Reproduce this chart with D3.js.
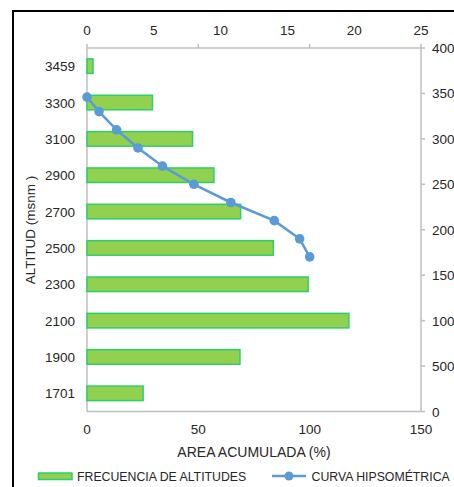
<!DOCTYPE html>
<html>
<head>
<meta charset="utf-8">
<script src="https://cdn.jsdelivr.net/npm/d3@7"></script>
<style>
  html, body { margin: 0; padding: 0; background: #fff; }
  svg { display: block; font-family: "Liberation Sans", Arial, sans-serif; }
</style>
</head>
<body>
<svg id="chart" width="454" height="487"></svg>
<script>
// Altitude classes (msnm), top to bottom
const altitudes = ["3459", "3300", "3100", "2900", "2700", "2500", "2300", "2100", "1900", "1701"];
// Frequency of altitudes (% of area in each class) — top axis
const frequency = [0.45, 4.9, 7.9, 9.5, 11.5, 13.95, 16.55, 19.6, 11.45, 4.2];
// Hypsometric curve: cumulative area (%) vs altitude
const curveAltitude = [3459, 3300, 3100, 2900, 2700, 2500, 2300, 2100, 1900, 1701];
const curveArea = [0, 5.4, 13.3, 22.9, 33.9, 48.0, 64.6, 84.1, 95.5, 100];
// Tick labels
const topTicks = [0, 5, 10, 15, 20, 25];
const bottomTicks = [0, 50, 100, 150];
const rightTicks = [0, 500, 1000, 1500, 2000, 2500, 3000, 3500, 4000];

const svg = d3.select("#chart");
const plotL = 87, plotR = 421, plotT = 48, plotB = 411.5;
const textColor = "#262626";
const axisColor = "#bfbfbf";

// Frame lines of the surrounding sheet
svg.append("line").attr("x1", 13).attr("x2", 454).attr("y1", 11).attr("y2", 11)
  .attr("stroke", "#000").attr("stroke-width", 2);
svg.append("line").attr("x1", 13).attr("x2", 13).attr("y1", 10).attr("y2", 487)
  .attr("stroke", "#000").attr("stroke-width", 2);

// Scales
const xFreq = d3.scaleLinear().domain([0, 25]).range([plotL, plotR]);
const xArea = d3.scaleLinear().domain([0, 150]).range([plotL, plotR]);
const yAlt = d3.scaleLinear().domain([0, 4000]).range([plotB, plotT]);
const yBand = d3.scaleBand().domain(altitudes).range([plotT, plotB]).paddingInner(0.6).paddingOuter(0.3);

// Plot frame (axis lines)
const frame = svg.append("g").attr("stroke", axisColor).attr("stroke-width", 1.5).attr("fill", "none");
frame.append("line").attr("x1", plotL).attr("x2", plotR).attr("y1", plotT).attr("y2", plotT);
frame.append("line").attr("x1", plotL).attr("x2", plotR).attr("y1", plotB).attr("y2", plotB);
frame.append("line").attr("x1", plotL).attr("x2", plotL).attr("y1", plotT).attr("y2", plotB);
frame.append("line").attr("x1", plotR).attr("x2", plotR).attr("y1", plotT).attr("y2", plotB);

// Top tick marks follow the bottom axis major unit
frame.append("g").selectAll("line").data(bottomTicks).join("line")
  .attr("x1", d => xArea(d)).attr("x2", d => xArea(d))
  .attr("y1", plotT - 4).attr("y2", plotT);
// Right tick marks
frame.append("g").selectAll("line").data(rightTicks).join("line")
  .attr("x1", plotR).attr("x2", plotR + 4)
  .attr("y1", d => yAlt(d)).attr("y2", d => yAlt(d));

// Bars
svg.append("g").selectAll("rect").data(altitudes).join("rect")
  .attr("x", xFreq(0))
  .attr("y", d => yBand(d))
  .attr("width", (d, i) => xFreq(frequency[i]) - xFreq(0))
  .attr("height", yBand.bandwidth())
  .attr("fill", "#92d050")
  .attr("stroke", "#2bd06a")
  .attr("stroke-width", 1.5);

// Hypsometric curve
const pts = curveArea.map((a, i) => [xArea(a), yAlt(curveAltitude[i])]);
svg.append("path").datum(pts)
  .attr("d", d3.line())
  .attr("fill", "none").attr("stroke", "#5b9bd5").attr("stroke-width", 2.5);
svg.append("g").selectAll("circle").data(pts).join("circle")
  .attr("cx", d => d[0]).attr("cy", d => d[1]).attr("r", 4.8)
  .attr("fill", "#5b9bd5");

// Tick labels
const fs = 13.5;
svg.append("g").selectAll("text").data(topTicks).join("text")
  .attr("x", d => xFreq(d)).attr("y", 35)
  .attr("text-anchor", "middle").attr("font-size", fs).attr("fill", textColor)
  .text(d => d);
svg.append("g").selectAll("text").data(bottomTicks).join("text")
  .attr("x", d => xArea(d)).attr("y", 434)
  .attr("text-anchor", "middle").attr("font-size", fs).attr("fill", textColor)
  .text(d => d);
svg.append("g").selectAll("text").data(rightTicks).join("text")
  .attr("x", 432).attr("y", d => yAlt(d) + 5)
  .attr("text-anchor", "start").attr("font-size", fs).attr("fill", textColor)
  .text(d => d);
svg.append("g").selectAll("text").data(altitudes).join("text")
  .attr("x", 75).attr("y", d => yBand(d) + yBand.bandwidth() / 2 + 5)
  .attr("text-anchor", "end").attr("font-size", fs).attr("fill", textColor)
  .text(d => d);

// Axis titles
svg.append("text").attr("x", 254).attr("y", 457)
  .attr("text-anchor", "middle").attr("font-size", 14).attr("fill", textColor)
  .text("AREA ACUMULADA (%)");
svg.append("text").attr("transform", "translate(35,230) rotate(-90)")
  .attr("text-anchor", "middle").attr("font-size", 13.5).attr("fill", textColor)
  .text("ALTITUD (msnm )");

// Legend
const lg = svg.append("g");
lg.append("rect").attr("x", 38.5).attr("y", 473).attr("width", 33.5).attr("height", 6.5)
  .attr("fill", "#92d050").attr("stroke", "#2bd06a").attr("stroke-width", 1.5);
lg.append("text").attr("x", 77).attr("y", 480.5).attr("font-size", 12.3).attr("fill", textColor)
  .text("FRECUENCIA DE ALTITUDES");
lg.append("line").attr("x1", 272).attr("x2", 306).attr("y1", 476).attr("y2", 476)
  .attr("stroke", "#5b9bd5").attr("stroke-width", 2.5);
lg.append("circle").attr("cx", 289).attr("cy", 476).attr("r", 4.5).attr("fill", "#5b9bd5");
lg.append("text").attr("x", 311.5).attr("y", 480.5).attr("font-size", 12.3).attr("fill", textColor)
  .text("CURVA HIPSOMÉTRICA");
</script>
</body>
</html>
